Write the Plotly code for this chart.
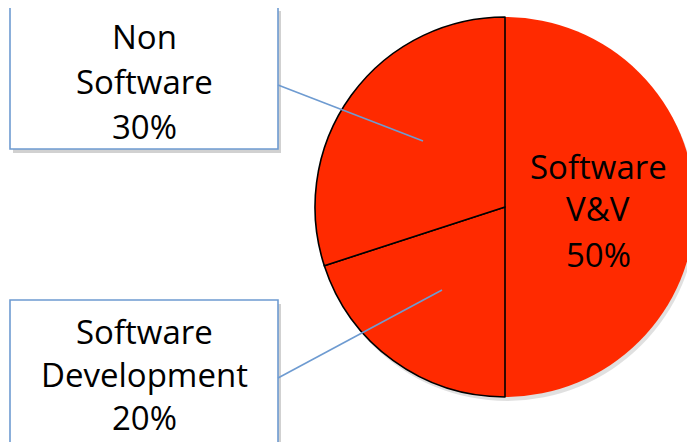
import plotly.graph_objects as go

labels = ["Software V&V", "Software Development", "Non Software"]
values = [50, 20, 30]
slice_color = "#FF2A00"

# page is 695x442; the browser body has an 8px margin, so the figure sits at (8, 8)
OFF = 8
W, H = 695 - OFF, 442 - OFF
FONT = "Open Sans"
FS = 33

def px(x):
    return (x - OFF) / W

def py(y):
    return 1 - (y - OFF) / H

fig = go.Figure()
fig.add_trace(go.Pie(
    labels=labels, values=values, sort=False, direction="clockwise", rotation=0,
    marker=dict(colors=[slice_color] * 3,
                line=dict(color=["rgba(0,0,0,0)", "black", "black"], width=[0, 1.6, 1.6])),
    textinfo="none", hoverinfo="label+percent", showlegend=False,
    domain=dict(x=[px(315), 1.0], y=[py(397), py(17)]),
))

shapes = []
annotations = []

def box(x0, y0, x1, y1):
    shapes.append(dict(type="rect", xref="paper", yref="paper",
                       x0=px(x0 + 3), x1=px(x1 + 3), y0=py(y1 + 4), y1=py(y0 + 4),
                       line=dict(width=0), fillcolor="rgba(0,0,0,0.18)"))
    shapes.append(dict(type="rect", xref="paper", yref="paper",
                       x0=px(x0), x1=px(x1), y0=py(y1), y1=py(y0),
                       line=dict(color="#6E9BD1", width=1.6), fillcolor="white"))

def leader(x0, y0, x1, y1):
    shapes.append(dict(type="line", xref="paper", yref="paper",
                       x0=px(x0), y0=py(y0), x1=px(x1), y1=py(y1),
                       line=dict(color="#6E9BD1", width=1.6)))

def text_lines(lines, cx, baselines):
    for t, b in zip(lines, baselines):
        annotations.append(dict(text=t, xref="paper", yref="paper",
                                x=px(cx), y=py(b - 11), xanchor="center", yanchor="middle",
                                showarrow=False, font=dict(family=FONT, size=FS, color="black")))

def label_lines(i):
    return labels[i].split(" ") + [f"{values[i] / sum(values) * 100:.0f}%"]

# pie shadow
shapes.append(dict(type="circle", xref="paper", yref="paper", layer="below",
                   x0=px(315 + 2), x1=px(695 + 2), y0=py(397 + 4), y1=py(17 + 4),
                   line=dict(width=0), fillcolor="rgba(0,0,0,0.12)"))

# Non Software box
box(10, 7, 278, 149)
leader(278, 85, 423, 141)
text_lines(label_lines(2), 144, [48, 92, 137])

# Software Development box
box(10, 300, 278, 470)
leader(278, 378, 442, 290)
text_lines(label_lines(1), 144, [342, 385, 428])

# V&V label inside slice
text_lines(label_lines(0), 598, [177, 220, 265])

fig.update_layout(width=W, height=H, margin=dict(l=0, r=0, t=0, b=0),
                  paper_bgcolor="white", plot_bgcolor="white",
                  shapes=shapes, annotations=annotations)
fig.write_html("out.html")
